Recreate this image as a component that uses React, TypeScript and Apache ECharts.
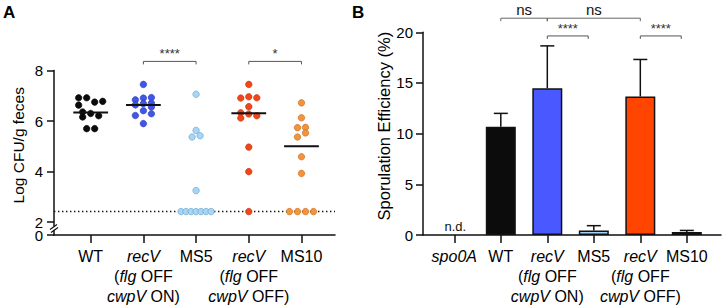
import React, { useEffect, useRef } from 'react';
import * as echarts from 'echarts';

const FONT = '"Liberation Sans", Arial, Helvetica, sans-serif';

// ---------------- Panel A: colonization (Log CFU/g feces) ----------------
const groupsA = ['WT', 'recV (flg OFF cwpV ON)', 'MS5', 'recV (flg OFF cwpV OFF)', 'MS10'];
const tickLabelsA = [
  'WT',
  '{i|recV}\n({i|flg} OFF\n{i|cwpV} ON)',
  'MS5',
  '{i|recV}\n({i|flg} OFF\n{i|cwpV} OFF)',
  'MS10',
];
const yTicksA = [2, 4, 6, 8];
const yLowerTicksA = [0];
const detectionLimitA = 2.42;

const cfuWT = [6.92, 6.92, 6.63, 6.75, 6.78, 6.36, 6.3, 6.21, 6.16, 5.7, 5.7];
const jitWT = [-3, -1, -3, 1, 3, -2, 0, 2, -2, -1, 1];
const cfuRecVOn = [7.45, 6.84, 6.91, 6.93, 6.64, 6.69, 6.71, 6.56, 6.41, 6.22, 6.29, 5.9];
const jitRecVOn = [0, -2, 0, 2, -2, 0, 2, 2, 0, -2, 2, 0];
const cfuMS5 = [7.06, 5.63, 5.37, 5.42, 3.25, 2.42, 2.42, 2.42, 2.42, 2.42, 2.42, 2.42];
const jitMS5 = [0, 0, -1, 1, 0, -3.75, -2.5, -1.25, 0, 1.25, 2.5, 3.75];
const cfuRecVOff = [7.45, 6.91, 6.96, 6.92, 6.57, 6.33, 6.28, 6.21, 6.12, 4.97, 4.0, 2.42];
const jitRecVOff = [0, -2, 0, 2, 0, -2, 0, 2, -2, 0, 0, 0];
const cfuMS10 = [6.72, 6.13, 5.74, 5.75, 5.37, 5.53, 4.59, 3.93, 2.42, 2.42, 2.42, 2.42];
const jitMS10 = [0, 0, -1, 1, -1, 1, 0, 0, -3, -1, 1, 3];

const mediansA = [6.34, 6.64, null, 6.31, 5.0];
const bracketPairsA = [[1, 2], [3, 4]];
const bracketLabelsA = ['****', '*'];
const bracketLevelA = 8.36;

// ---------------- Panel B: sporulation efficiency ----------------
const tickLabelsB = [
  '{i|spo0A}',
  'WT',
  '{i|recV}\n({i|flg} OFF\n{i|cwpV} ON)',
  'MS5',
  '{i|recV}\n({i|flg} OFF\n{i|cwpV} OFF)',
  'MS10',
];
const sporMean = [null, 10.67, 14.48, 0.45, 13.66, 0.3];
const sporErr = [null, 1.33, 4.18, 0.47, 3.66, 0.15];
const notDetected = [0];
const bracketPairsB = [[1, 2], [2, 4], [2, 2.88], [4, 4.88]];
const bracketLabelsB = ['ns', 'ns', '****', '****'];
const bracketLevelsB = [21.39, 21.39, 19.64, 19.64];

// ---------------- styles ----------------
const dotFill = ['#0b0b0b', '#4156e8', '#a9d5f2', '#f0461a', '#f4933a'];
const dotBorder = ['#000000', '#2b3cb8', '#5b9fd0', '#b8310e', '#c06a1e'];
const barFill = [null, '#0c0c0c', '#4a58ff', '#a6d3f5', '#ff4500', '#94613a'];

const JIT = 0.076; // jitter step in category units
const xMinA = -0.696;
const xMaxA = 4.636;
const xMinB = -0.673;
const xMaxB = 5.735;
const AX = '#111';

function makeBracketSeries(pairs, levels, labels, xIdx, yIdx, fontSize, color, textColor, textGap) {
  return {
    type: 'custom',
    xAxisIndex: xIdx,
    yAxisIndex: yIdx,
    z: 6,
    silent: true,
    clip: false,
    data: pairs.map((p, i) => [p[0], p[1], levels[i]]),
    renderItem: (params, api) => {
      const p1 = api.coord([api.value(0), api.value(2)]);
      const p2 = api.coord([api.value(1), api.value(2)]);
      const drop = 3;
      return {
        type: 'group',
        children: [
          {
            type: 'polyline',
            shape: { points: [[p1[0], p1[1] + drop], [p1[0], p1[1]], [p2[0], p2[1]], [p2[0], p2[1] + drop]] },
            style: { stroke: color, lineWidth: 1, fill: null },
          },
          {
            type: 'text',
            style: {
              text: labels[params.dataIndex],
              x: (p1[0] + p2[0]) / 2,
              y: p1[1] - textGap,
              align: 'center',
              verticalAlign: 'bottom',
              fontSize,
              fontFamily: FONT,
              fill: textColor,
            },
          },
        ],
      };
    },
  };
}

const richItalic = { i: { fontStyle: 'italic', fontSize: 16, lineHeight: 20, fontFamily: FONT, color: '#000' } };

const range = (n) => Array.from({ length: n }, (_, i) => i);

// Two stacked x axes per panel: one with the line, ticks and even labels, one with odd labels,
// so that neighbouring multi-line labels are never hidden by overlap checks.
function makeCategoryAxes(gridIndex, min, max, labels) {
  const all = range(labels.length);
  const even = all.filter((i) => i % 2 === 0);
  const odd = all.filter((i) => i % 2 === 1);
  const labelBase = {
    margin: 11,
    fontSize: 16,
    lineHeight: 20,
    color: '#000',
    fontFamily: FONT,
    rich: richItalic,
    formatter: (v) => labels[Math.round(v)],
  };
  return [
    {
      gridIndex,
      type: 'value',
      position: 'bottom',
      offset: 0,
      min,
      max,
      axisLine: { show: true, onZero: false, lineStyle: { color: AX, width: 1.5 } },
      axisTick: { show: true, customValues: all, length: 8, lineStyle: { color: AX, width: 1.5 } },
      axisLabel: { ...labelBase, customValues: even },
      splitLine: { show: false },
    },
    {
      gridIndex,
      type: 'value',
      position: 'bottom',
      offset: 0,
      min,
      max,
      axisLine: { show: false, onZero: false },
      axisTick: { show: false },
      axisLabel: { ...labelBase, customValues: odd },
      splitLine: { show: false },
    },
  ];
}

export default function App() {
  const ref = useRef(null);
  useEffect(() => {
    const chart = echarts.init(ref.current, null, { renderer: 'svg' });
    const groupData = [
      [cfuWT, jitWT],
      [cfuRecVOn, jitRecVOn],
      [cfuMS5, jitMS5],
      [cfuRecVOff, jitRecVOff],
      [cfuMS10, jitMS10],
    ];
    const scatterSeries = groupData.map(([vals, jit], gi) => ({
      type: 'scatter',
      name: groupsA[gi],
      xAxisIndex: 0,
      yAxisIndex: 0,
      z: 3,
      symbol: 'circle',
      symbolSize: 6.5,
      itemStyle: { color: dotFill[gi], borderColor: dotBorder[gi], borderWidth: 0.6, opacity: 1 },
      data: vals.map((v, j) => [gi + jit[j] * JIT, v]),
    }));

    const XB = 3; // x axis index of panel B

    const option = {
      animation: false,
      textStyle: { fontFamily: FONT },
      grid: [
        { left: 54, top: 70.5, width: 281, height: 155.5, outerBoundsMode: 'none', containLabel: false },
        { left: 54, top: 230.5, width: 281, height: 4.5, outerBoundsMode: 'none', containLabel: false },
        { left: 423, top: 32.3, width: 298, height: 202.7, outerBoundsMode: 'none', containLabel: false },
      ],
      xAxis: [
        { gridIndex: 0, type: 'value', min: xMinA, max: xMaxA, show: false },
        ...makeCategoryAxes(1, xMinA, xMaxA, tickLabelsA),
        ...makeCategoryAxes(2, xMinB, xMaxB, tickLabelsB),
      ],
      yAxis: [
        {
          gridIndex: 0,
          type: 'value',
          min: 1.85,
          max: 8,
          name: 'Log CFU/g feces',
          nameLocation: 'middle',
          nameGap: 28,
          nameRotate: 90,
          nameTextStyle: { fontSize: 15.5, color: '#000', fontFamily: FONT, padding: [0, 0, 0, 6] },
          axisLine: { show: true, onZero: false, lineStyle: { color: AX, width: 1.5 } },
          axisTick: { show: true, customValues: yTicksA, length: 7, lineStyle: { color: AX, width: 1.5 } },
          axisLabel: { customValues: yTicksA, margin: 11, fontSize: 15, lineHeight: 13, color: '#000', fontFamily: FONT },
          splitLine: { show: false },
        },
        {
          gridIndex: 1,
          type: 'value',
          min: 0,
          max: 0.3,
          axisLine: { show: true, onZero: false, lineStyle: { color: AX, width: 1.5 } },
          axisTick: { show: true, customValues: yLowerTicksA, length: 7, lineStyle: { color: AX, width: 1.5 } },
          axisLabel: { customValues: yLowerTicksA, margin: 11, fontSize: 15, lineHeight: 13, color: '#000', fontFamily: FONT },
          splitLine: { show: false },
        },
        {
          gridIndex: 2,
          type: 'value',
          min: 0,
          max: 20,
          interval: 5,
          name: 'Sporulation Efficiency (%)',
          nameLocation: 'middle',
          nameGap: 31,
          nameRotate: 90,
          nameTextStyle: { fontSize: 16.5, color: '#000', fontFamily: FONT, padding: [0, 0, 0, 15] },
          axisLine: { show: true, onZero: false, lineStyle: { color: AX, width: 1.5 } },
          axisTick: { show: true, length: 7, lineStyle: { color: AX, width: 1.5 } },
          axisLabel: { margin: 10, fontSize: 15, color: '#000', fontFamily: FONT },
          splitLine: { show: false },
        },
      ],
      graphic: [
        { type: 'text', left: 3, top: 4, style: { text: 'A', font: `bold 17px ${FONT}`, fill: '#000' } },
        { type: 'text', left: 352, top: 4, style: { text: 'B', font: `bold 17px ${FONT}`, fill: '#000' } },
        { type: 'line', shape: { x1: 50, y1: 229.5, x2: 57, y2: 224.5 }, style: { stroke: AX, lineWidth: 1.2 } },
        { type: 'line', shape: { x1: 51, y1: 232.5, x2: 58, y2: 227.5 }, style: { stroke: AX, lineWidth: 1.2 } },
      ],
      series: [
        // detection limit
        {
          type: 'custom',
          xAxisIndex: 0,
          yAxisIndex: 0,
          z: 1,
          silent: true,
          clip: false,
          data: [[detectionLimitA]],
          renderItem: (params, api) => {
            const p1 = api.coord([xMinA, api.value(0)]);
            const p2 = api.coord([xMaxA, api.value(0)]);
            return {
              type: 'line',
              shape: { x1: p1[0], y1: p1[1], x2: p2[0], y2: p2[1] },
              style: { stroke: '#111', lineWidth: 1.5, lineDash: [1.4, 2.6] },
            };
          },
        },
        ...scatterSeries,
        // medians
        {
          type: 'custom',
          xAxisIndex: 0,
          yAxisIndex: 0,
          z: 4,
          silent: true,
          data: mediansA.map((m, i) => (m == null ? null : [i, m])).filter((d) => d),
          renderItem: (params, api) => {
            const p1 = api.coord([api.value(0) - 0.33, api.value(1)]);
            const p2 = api.coord([api.value(0) + 0.33, api.value(1)]);
            return {
              type: 'line',
              shape: { x1: p1[0], y1: p1[1], x2: p2[0], y2: p2[1] },
              style: { stroke: '#111', lineWidth: 2 },
            };
          },
        },
        makeBracketSeries(bracketPairsA, bracketPairsA.map(() => bracketLevelA), bracketLabelsA, 0, 0, 13, '#555', '#333', 1),
        // bars B
        {
          type: 'bar',
          xAxisIndex: XB,
          yAxisIndex: 2,
          barWidth: 30,
          z: 2,
          data: sporMean
            .map((m, i) => (m == null ? null : { value: [i, m], itemStyle: { color: barFill[i], borderColor: '#111', borderWidth: 1.5 } }))
            .filter((d) => d),
        },
        // error bars B
        {
          type: 'custom',
          xAxisIndex: XB,
          yAxisIndex: 2,
          z: 5,
          silent: true,
          data: sporMean.map((m, i) => (m == null ? null : [i, m, sporErr[i]])).filter((d) => d),
          renderItem: (params, api) => {
            const x = api.value(0);
            const m = api.value(1);
            const e = api.value(2);
            const pb = api.coord([x, m]);
            const pt = api.coord([x, m + e]);
            const half = 7;
            return {
              type: 'group',
              children: [
                { type: 'line', shape: { x1: pb[0], y1: pb[1], x2: pt[0], y2: pt[1] }, style: { stroke: '#111', lineWidth: 1.5 } },
                { type: 'line', shape: { x1: pt[0] - half, y1: pt[1], x2: pt[0] + half, y2: pt[1] }, style: { stroke: '#111', lineWidth: 1.5 } },
              ],
            };
          },
        },
        // n.d. label
        {
          type: 'custom',
          xAxisIndex: XB,
          yAxisIndex: 2,
          z: 5,
          silent: true,
          data: notDetected.map((i) => [i, 0]),
          renderItem: (params, api) => {
            const p = api.coord([api.value(0), api.value(1)]);
            return {
              type: 'text',
              style: {
                text: 'n.d.',
                x: p[0] + 1,
                y: p[1] - 2,
                align: 'center',
                verticalAlign: 'bottom',
                fontSize: 13,
                fontFamily: FONT,
                fill: '#111',
              },
            };
          },
        },
        makeBracketSeries(bracketPairsB.slice(0, 2), bracketLevelsB.slice(0, 2), bracketLabelsB.slice(0, 2), XB, 2, 15, '#666', '#111', 1.5),
        makeBracketSeries(bracketPairsB.slice(2), bracketLevelsB.slice(2), bracketLabelsB.slice(2), XB, 2, 13, '#555', '#333', 1),
      ],
    };
    chart.setOption(option);
    return () => chart.dispose();
  }, []);
  return <div ref={ref} style={{ position: 'absolute', left: 0, top: 0, width: 723, height: 307, background: '#fff' }} />;
}
